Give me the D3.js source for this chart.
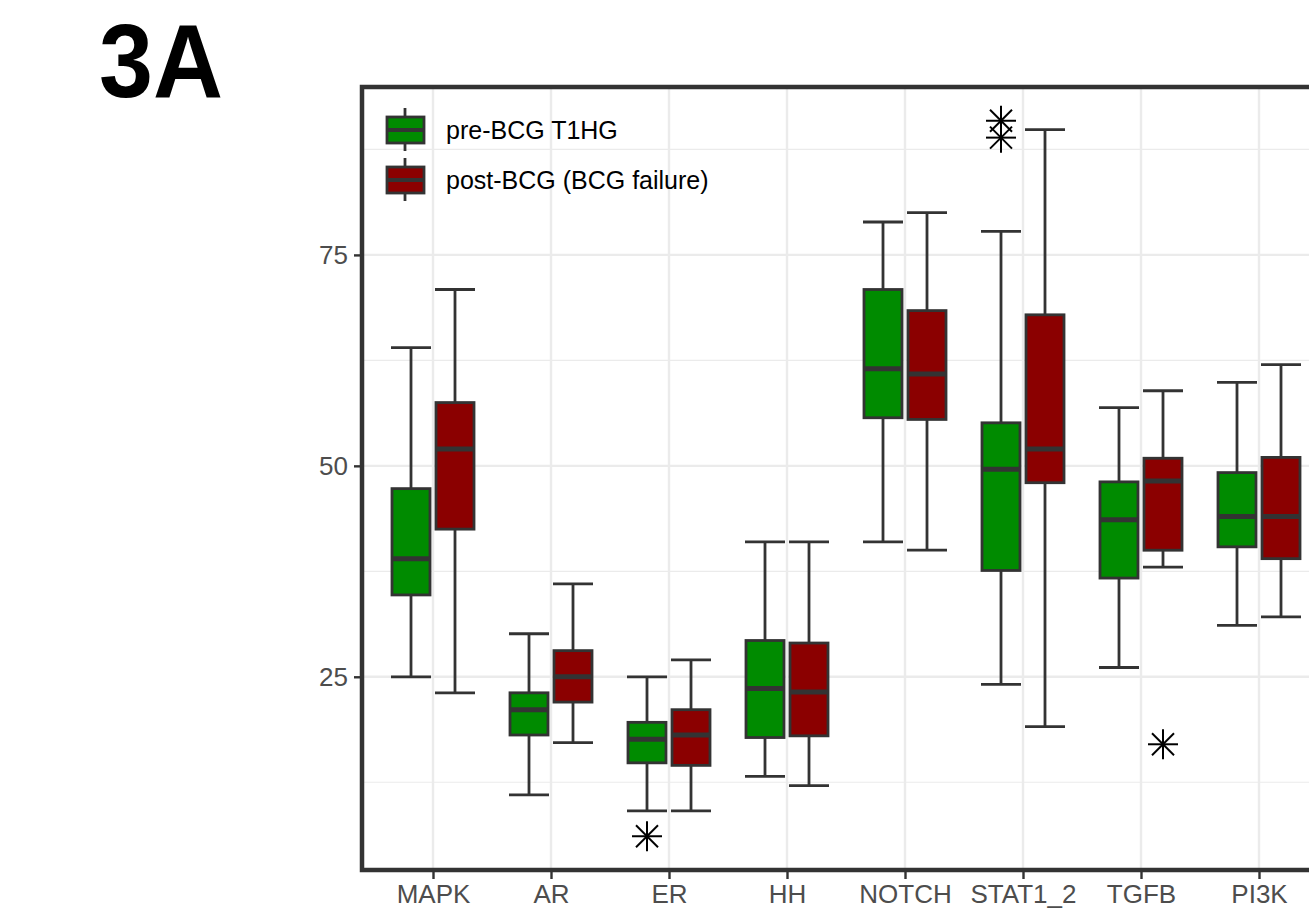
<!DOCTYPE html>
<html>
<head>
<meta charset="utf-8">
<script src="https://cdn.jsdelivr.net/npm/d3@7"></script>
<style>
  html, body { margin: 0; padding: 0; background: #fff; overflow: hidden; }
  svg { display: block; font-family: "Liberation Sans", Arial, sans-serif; }
</style>
</head>
<body>
<svg id="chart" width="1309" height="913"></svg>
<script>
const pathways = ["MAPK", "AR", "ER", "HH", "NOTCH", "STAT1_2", "TGFB", "PI3K"];
const groups = ["pre-BCG T1HG", "post-BCG (BCG failure)"];
const groupColors = ["#008B00", "#8B0000"];

// pre-BCG box stats
const preLow  = [25.0, 11.0,  9.1, 13.2, 41.0, 24.1, 26.1, 31.1];
const preQ1   = [34.7, 18.1, 14.8, 17.8, 55.7, 37.6, 36.7, 40.4];
const preMed  = [39.0, 21.1, 17.6, 23.6, 61.5, 49.6, 43.6, 44.0];
const preQ3   = [47.3, 23.1, 19.6, 29.3, 70.9, 55.1, 48.1, 49.2];
const preHigh = [64.0, 30.1, 25.0, 41.0, 78.9, 77.8, 56.9, 59.9];

// post-BCG box stats
const postLow  = [23.1, 17.2,  9.1, 12.1, 40.0, 19.1, 38.0, 32.1];
const postQ1   = [42.5, 22.0, 14.5, 18.0, 55.5, 48.0, 40.0, 39.0];
const postMed  = [52.0, 25.0, 18.1, 23.2, 60.9, 52.0, 48.2, 44.0];
const postQ3   = [57.5, 28.1, 21.1, 29.0, 68.4, 67.9, 50.9, 51.0];
const postHigh = [70.9, 36.0, 27.0, 41.0, 80.0, 89.85, 58.9, 62.0];

// outliers
const outlierPathway = ["ER", "STAT1_2", "STAT1_2", "TGFB"];
const outlierGroup   = [0, 0, 0, 1];
const outlierValue   = [6.1, 90.9, 88.9, 17.0];

const yTicks = [25, 50, 75];
const yMinor = [12.5, 37.5, 62.5, 87.5];

const svg = d3.select("#chart");

const panel = { left: 362, top: 87, right: 1345, bottom: 870 };

const x = d3.scalePoint()
  .domain(pathways)
  .range([433, 1259]);

const y = d3.scaleLinear()
  .domain([2.1, 94.9])
  .range([panel.bottom, panel.top]);

const dodge = 22;
const boxW = 40;
const ink = "#333";

// title
svg.append("text")
  .attr("x", 99)
  .attr("y", 97)
  .attr("font-size", 104)
  .attr("font-weight", "bold")
  .attr("fill", "#000")
  .attr("textLength", 124)
  .attr("lengthAdjust", "spacingAndGlyphs")
  .text("3A");

// grid
const grid = svg.append("g");
grid.selectAll(".minor")
  .data(yMinor)
  .join("line")
  .attr("x1", panel.left).attr("x2", panel.right)
  .attr("y1", d => y(d)).attr("y2", d => y(d))
  .attr("stroke", "#EBEBEB").attr("stroke-width", 1.2);
grid.selectAll(".major")
  .data(yTicks)
  .join("line")
  .attr("x1", panel.left).attr("x2", panel.right)
  .attr("y1", d => y(d)).attr("y2", d => y(d))
  .attr("stroke", "#EBEBEB").attr("stroke-width", 2.4);
grid.selectAll(".vmajor")
  .data(pathways)
  .join("line")
  .attr("x1", d => x(d)).attr("x2", d => x(d))
  .attr("y1", panel.top).attr("y2", panel.bottom)
  .attr("stroke", "#EBEBEB").attr("stroke-width", 2.4);

// boxes
const stats = [
  { low: preLow, q1: preQ1, med: preMed, q3: preQ3, high: preHigh },
  { low: postLow, q1: postQ1, med: postMed, q3: postQ3, high: postHigh }
];

function seg(g, x1, y1, x2, y2, w, color) {
  g.append("line")
    .attr("x1", x1).attr("y1", y1)
    .attr("x2", x2).attr("y2", y2)
    .attr("stroke", color || ink)
    .attr("stroke-width", w);
}

const boxes = svg.append("g");
stats.forEach((s, gi) => {
  const off = gi === 0 ? -dodge : dodge;
  pathways.forEach((p, i) => {
    const cx = x(p) + off;
    const g = boxes.append("g");
    // whiskers + caps
    seg(g, cx, y(s.high[i]), cx, y(s.q3[i]), 2.8);
    seg(g, cx, y(s.q1[i]), cx, y(s.low[i]), 2.8);
    seg(g, cx - boxW / 2, y(s.high[i]), cx + boxW / 2, y(s.high[i]), 2.8);
    seg(g, cx - boxW / 2, y(s.low[i]), cx + boxW / 2, y(s.low[i]), 2.8);
    // box
    g.append("rect")
      .attr("x", cx - boxW / 2 + 1)
      .attr("y", y(s.q3[i]))
      .attr("width", boxW - 2)
      .attr("height", y(s.q1[i]) - y(s.q3[i]))
      .attr("fill", groupColors[gi])
      .attr("stroke", ink).attr("stroke-width", 2.8);
    // median
    seg(g, cx - boxW / 2 + 1, y(s.med[i]), cx + boxW / 2 - 1, y(s.med[i]), 5);
  });
});

// outliers (asterisk)
function asterisk(g, cx, cy) {
  const r = 15, d = 11;
  seg(g, cx - r, cy, cx + r, cy, 2, "#000");
  seg(g, cx, cy - r, cx, cy + r, 2, "#000");
  seg(g, cx - d, cy - d, cx + d, cy + d, 2, "#000");
  seg(g, cx - d, cy + d, cx + d, cy - d, 2, "#000");
}
const outG = svg.append("g");
outlierValue.forEach((v, i) => {
  const cx = x(outlierPathway[i]) + (outlierGroup[i] === 0 ? -dodge : dodge);
  asterisk(outG, cx, y(v));
});

// panel border
svg.append("rect")
  .attr("x", panel.left)
  .attr("y", panel.top)
  .attr("width", panel.right - panel.left)
  .attr("height", panel.bottom - panel.top)
  .attr("fill", "none")
  .attr("stroke", ink)
  .attr("stroke-width", 4.5);

// axes
const yAxis = svg.append("g")
  .attr("transform", `translate(${panel.left - 2},0)`)
  .call(d3.axisLeft(y).tickValues(yTicks).tickSize(6).tickPadding(6));
yAxis.select(".domain").remove();
yAxis.selectAll(".tick line").attr("stroke", ink).attr("stroke-width", 2.4);
yAxis.selectAll(".tick text")
  .attr("fill", "#4D4D4D")
  .attr("font-size", 26)
  .attr("font-family", "Liberation Sans, Arial, sans-serif");

const xAxis = svg.append("g")
  .attr("transform", `translate(0,${panel.bottom + 2})`)
  .call(d3.axisBottom(x).tickSize(7).tickPadding(6));
xAxis.select(".domain").remove();
xAxis.selectAll(".tick line").attr("stroke", ink).attr("stroke-width", 2.4);
xAxis.selectAll(".tick text")
  .attr("fill", "#4D4D4D")
  .attr("font-size", 26)
  .attr("font-family", "Liberation Sans, Arial, sans-serif");

// legend
const legend = svg.append("g");
groups.forEach((name, i) => {
  const cy = 130 + i * 50;
  const row = legend.append("g");
  seg(row, 405, cy - 22, 405, cy + 21, 2.8);
  row.append("rect")
    .attr("x", 387).attr("y", cy - 13)
    .attr("width", 37).attr("height", 26)
    .attr("fill", groupColors[i])
    .attr("stroke", ink).attr("stroke-width", 2.8);
  seg(row, 387, cy, 424, cy, 4);
  row.append("text")
    .attr("x", 446)
    .attr("y", cy + 9)
    .attr("font-size", 25)
    .attr("fill", "#000")
    .text(name);
});
</script>
</body>
</html>
